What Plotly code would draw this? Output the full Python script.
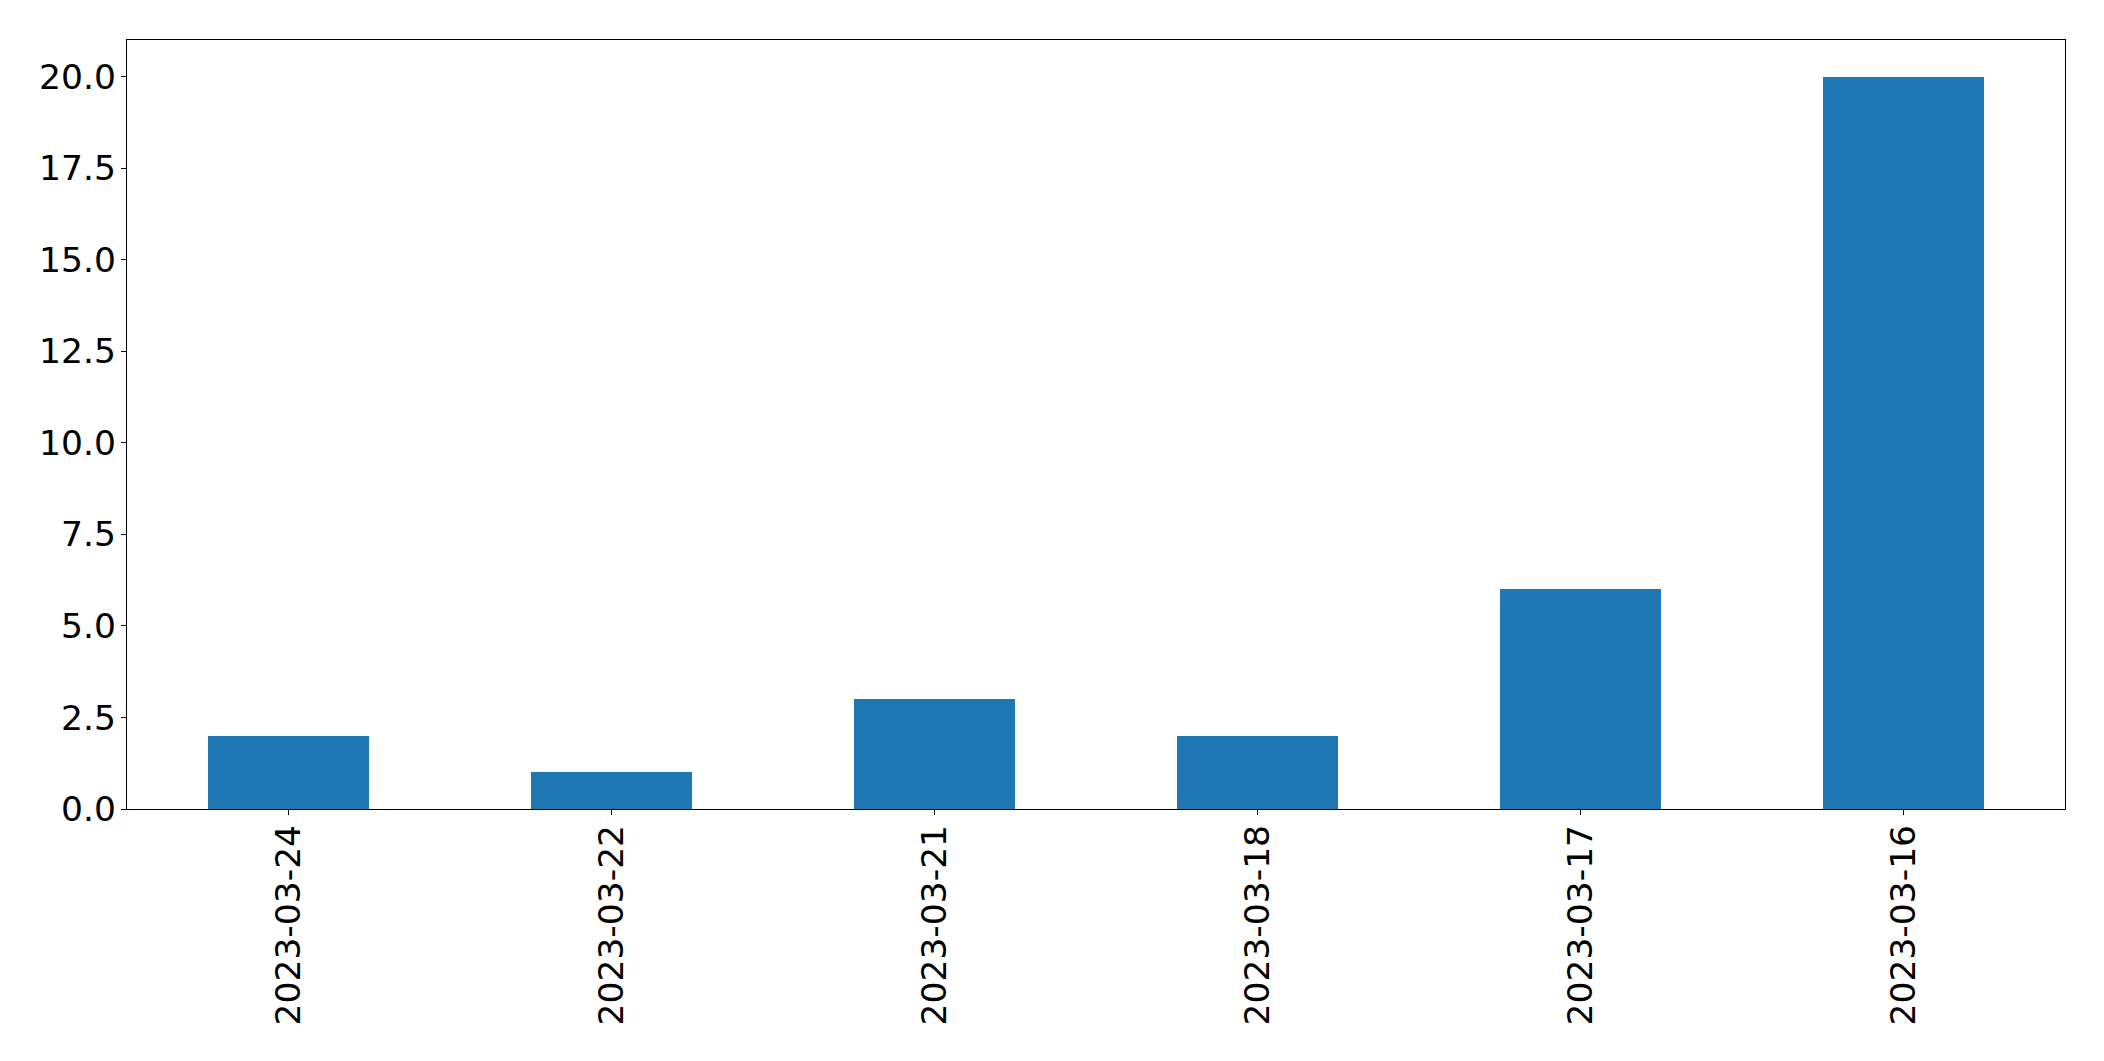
import plotly.graph_objects as go

categories = ["2023-03-24", "2023-03-22", "2023-03-21", "2023-03-18", "2023-03-17", "2023-03-16"]
values = [2, 1, 3, 2, 6, 20]
y_ticks = [0, 2.5, 5, 7.5, 10, 12.5, 15, 17.5, 20]

fig = go.Figure(go.Bar(x=list(range(len(categories))), y=values, width=0.5,
                       marker=dict(color="#1f77b4", line=dict(width=0))))

font = dict(family="DejaVu Sans", size=34.5, color="black")
fig.update_layout(
    width=2096, height=1053,
    margin=dict(l=119, r=39, t=32, b=252),
    plot_bgcolor="white", paper_bgcolor="white",
    showlegend=False, font=font, bargap=0,
)
fig.update_xaxes(range=[-0.5, 5.5], tickmode="array", tickvals=list(range(len(categories))),
                 ticktext=categories, tickangle=-90, ticks="outside", ticklen=5, tickwidth=1.3,
                 tickcolor="black", showline=True, linecolor="black", linewidth=1.3, mirror=True,
                 showgrid=False, zeroline=False, tickfont=font, ticklabelstandoff=-4)
fig.update_yaxes(range=[0, 21], tickmode="array", tickvals=y_ticks,
                 ticktext=[f"{v:.1f}" for v in y_ticks], ticks="outside", ticklen=5, tickwidth=1.3,
                 tickcolor="black", showline=True, linecolor="black", linewidth=1.3, mirror=True,
                 showgrid=False, zeroline=False, tickfont=font, ticklabelstandoff=-2)

fig.write_html("out.html")
